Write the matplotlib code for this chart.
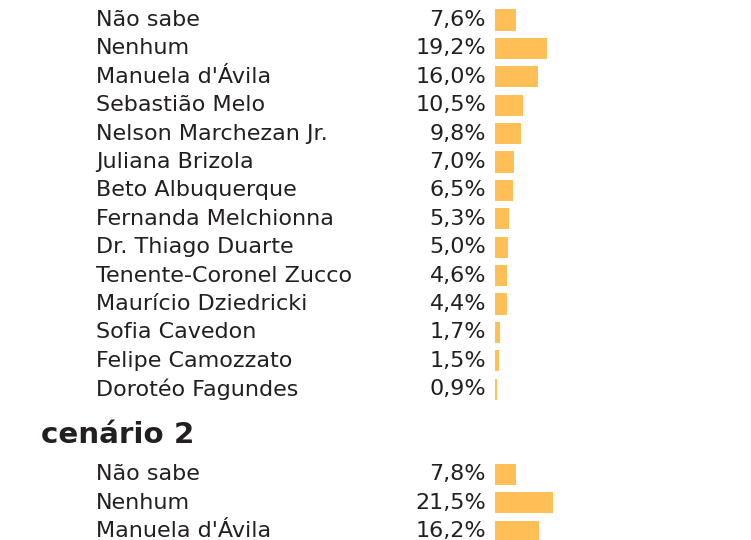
import matplotlib
matplotlib.use("Agg")
import matplotlib.pyplot as plt

names1 = ["Não sabe", "Nenhum", "Manuela d'Ávila", "Sebastião Melo", "Nelson Marchezan Jr.",
          "Juliana Brizola", "Beto Albuquerque", "Fernanda Melchionna", "Dr. Thiago Duarte",
          "Tenente-Coronel Zucco", "Maurício Dziedricki", "Sofia Cavedon", "Felipe Camozzato",
          "Dorotéo Fagundes"]
values1 = [7.6, 19.2, 16.0, 10.5, 9.8, 7.0, 6.5, 5.3, 5.0, 4.6, 4.4, 1.7, 1.5, 0.9]

title2 = "cenário 2"
names2 = ["Não sabe", "Nenhum", "Manuela d'Ávila"]
values2 = [7.8, 21.5, 16.2]

bar_color = "#FFBF57"
text_color = "#231F20"
font = "DejaVu Sans"

fig = plt.figure(figsize=(7.51, 5.40), dpi=100)
ax = fig.add_axes([0, 0, 1, 1])
W, H = 751, 540
x0, pxper = 495, 2.7
y0, rowpx = 20, 28.4
ax.set_xlim(-x0 / pxper, (W - x0) / pxper)
ax.set_ylim((H - y0) / rowpx, -y0 / rowpx)
ax.axis("off")

def px_x(p):
    return (p - x0) / pxper

rows1 = list(range(len(names1)))
rows2 = [16 + i for i in range(len(names2))]

ax.barh(rows1, values1, height=0.74, color=bar_color, left=0)
ax.barh(rows2, values2, height=0.74, color=bar_color, left=0)

fs = 16
for r, n, v in list(zip(rows1, names1, values1)) + list(zip(rows2, names2, values2)):
    ax.text(px_x(96), r, n, ha="left", va="center", fontsize=fs, color=text_color, family=font)
    ax.text(px_x(486), r, f"{v:.1f}%".replace(".", ","), ha="right", va="center",
            fontsize=fs, color=text_color, family=font)

ax.text(px_x(41), 14.62, title2, ha="left", va="center", fontsize=21.2, fontweight="bold",
        color=text_color, family=font)

fig.savefig("out.png", dpi=100)
